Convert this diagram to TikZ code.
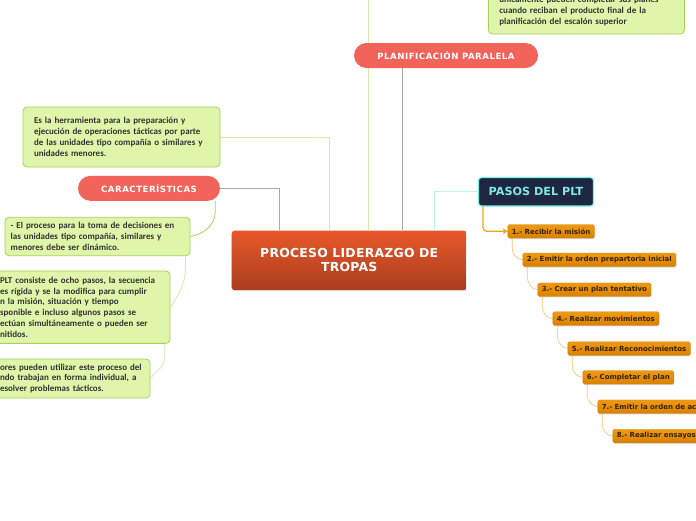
\documentclass[tikz,border=0pt]{standalone}
\usepackage{fontspec}
\newfontfamily\hdfont{DejaVu Sans}
\newfontfamily\hdwide{DejaVu Sans}[LetterSpace=6]
\newfontfamily\txfont{Carlito}
\usetikzlibrary{backgrounds,shadows,arrows.meta}
\definecolor{notefill}{HTML}{DFF5A9}
\definecolor{noteline}{HTML}{A9D15A}
\definecolor{pillred}{HTML}{F2635A}
\definecolor{roottop}{HTML}{E8582A}
\definecolor{rootbot}{HTML}{A83D1E}
\definecolor{navy}{HTML}{1E2642}
\definecolor{aqua}{HTML}{74F2E6}
\definecolor{aquatext}{HTML}{7FE9E0}
\definecolor{steptop}{HTML}{EE9A14}
\definecolor{stepbot}{HTML}{D98000}
\definecolor{steptext}{HTML}{382200}
\definecolor{steplink}{HTML}{F8C77C}
\definecolor{arroworange}{HTML}{F5A31A}
\definecolor{linkgray}{HTML}{A8A8A8}
\definecolor{linkgreen}{HTML}{D5EBAC}
\definecolor{linkaqua}{HTML}{BDF6F1}

\begin{document}
\begin{tikzpicture}[x=1pt,y=-1pt,
  note/.style={draw=noteline,line width=.8pt,fill=notefill,rounded corners=4pt,align=left,text=black!80,
    font=\txfont\bfseries\fontsize{9}{10.8}\selectfont,inner ysep=4pt},
  pill/.style={fill=pillred,rounded corners=12.5pt,text=white,font=\hdwide\bfseries\fontsize{8.6}{10}\selectfont,
    minimum height=25pt,inner sep=0pt},
  stepbox/.style={anchor=west,top color=steptop,bottom color=stepbot,draw=stepbot,line width=.3pt,rounded corners=1.5pt,
    minimum height=13.5pt,inner xsep=4pt,inner ysep=0pt,text=steptext,font=\hdfont\bfseries\fontsize{7}{8}\selectfont,
    drop shadow={opacity=.3,shadow xshift=.6pt,shadow yshift=-1pt}},
  steplink/.style={draw=steplink,line width=.7pt},
  linkgray/.style={draw=linkgray,line width=1pt},
  linkgreen/.style={draw=linkgreen,line width=1pt}]
\clip (0,0) rectangle (696,520);

\node[top color=roottop,bottom color=rootbot,rounded corners=3pt,minimum width=235pt,minimum height=59.5pt,align=center,
  text=white,font=\hdfont\bfseries\addfontfeatures{LetterSpace=2}\fontsize{12.4}{14}\selectfont,drop shadow={opacity=.2,shadow xshift=0pt,shadow yshift=-1pt}]
  (root) at (349.2,260.4) {PROCESO LIDERAZGO DE\\TROPAS};
\coordinate (rootA) at ([xshift=-70pt]root.north);
\coordinate (rootB) at ([xshift=-20.2pt]root.north);
\coordinate (rootC) at ([xshift=18.8pt]root.north);
\coordinate (rootD) at ([xshift=52.8pt]root.north);
\coordinate (rootE) at ([xshift=84.8pt]root.north);
\coordinate (topend) at (368,0);

\node[note,text width=175pt,inner xsep=11pt,minimum height=60pt] (herr) at (121.5,137)
  {Es la herramienta para la preparación y\\ejecución de operaciones tácticas por parte\\de las unidades tipo compañía o similares y\\unidades menores.};
\node[pill,minimum width=142pt] (carac) at (149,188.3) {CARACTERÍSTICAS};
\node[note,text width=173.6pt,inner xsep=5.7pt,minimum height=38.4pt] (din) at (97.5,236.5)
  {- El proceso para la toma de decisiones en\\las unidades tipo compañía, similares y\\menores debe ser dinámico.};
\node[note,text width=164pt,inner xsep=6pt,minimum height=72.3pt] (pasosn) at (82,307.2)
  {PLT consiste de ocho pasos, la secuencia\\es rígida y se la modifica para cumplir\\n la misión, situación y tiempo\\sponible e incluso algunos pasos se\\ectúan simultáneamente o pueden ser\\nitidos.};
\node[note,text width=144pt,inner xsep=6pt,minimum height=39pt] (tact) at (72,378.5)
  {ores pueden utilizar este proceso del\\ndo trabajan en forma individual, a\\esolver problemas tácticos.};

\node[pill,minimum width=184pt] (plan) at (446,55.5) {PLANIFICACIÓN PARALELA};
\node[note,anchor=south west,text width=174pt,inner xsep=11pt,inner ysep=8pt] (final) at (488,34.3)
  {únicamente pueden completar sus planes\\cuando reciban el producto final de la\\planificación del escalón superior};

\node[fill=navy,draw=aqua,line width=1.2pt,rounded corners=3pt,minimum width=115pt,minimum height=28.5pt,
  text=aquatext,font=\hdfont\bfseries\fontsize{11.2}{13}\selectfont] (pasos) at (536,191.8) {PASOS DEL PLT};

\node[stepbox,minimum width=85.3pt] (s1) at (507.7,231.3) {1.- Recibir la misión};
\node[stepbox,minimum width=150.3pt] (s2) at (522.7,259.8) {2.- Emitir la orden prepartoria inicial};
\node[stepbox,minimum width=111.3pt] (s3) at (537.7,289.7) {3.- Crear un plan tentativo};
\node[stepbox,minimum width=105.3pt] (s4) at (552.7,318.5) {4.- Realizar movimientos};
\node[stepbox,minimum width=122.3pt] (s5) at (567.7,348.5) {5.- Realizar Reconocimientos};
\node[stepbox,minimum width=90pt] (s6) at (582.7,377.3) {6.- Completar el plan};
\node[stepbox,text width=110pt] (s7) at (597.7,406.7) {7.- Emitir la orden de ac};
\node[stepbox,text width=100pt] (s8) at (612.7,436) {8.- Realizar ensayos};

\begin{scope}[on background layer]
\fill[white] (0,0) rectangle (696,520);
\draw[linkgray] (carac.east) -| (rootA);
\draw[linkgreen] (herr.east) -| (rootB);
\draw[linkgreen] (rootC) -- (topend);
\draw[linkgray] (plan.south -| rootD) -- (rootD);
\draw[draw=linkaqua,line width=1pt] (pasos.west) -| (rootE);
\draw[draw=noteline,line width=.8pt] ([xshift=-5pt]carac.south east) -- ++(0,11) .. controls +(0,14) and +(12,-2) .. (din.east);
\draw[linkgreen,line width=.8pt] ([xshift=-5pt]din.south east) -- ++(0,12) .. controls +(0,16) and +(8,-12) .. (pasosn.east);
\draw[linkgreen,line width=.8pt] ([xshift=-5.7pt]pasosn.south east) -- ++(0,13.4) .. controls +(0,10) and +(6,-8) .. (tact.east);
\draw[draw=arroworange,line width=1.2pt,rounded corners=4pt,-{Stealth[length=5pt,width=6pt]}] ([xshift=5pt]pasos.south west) |- (s1.west);
\foreach \a/\b in {s1/s2,s2/s3,s3/s4,s4/s5,s5/s6,s6/s7,s7/s8}
  \draw[steplink] ([xshift=4.5pt]\a.south west) -- ++(0,10) .. controls +(0,6) and +(-6,0) .. (\b.west);
\end{scope}
\end{tikzpicture}
\end{document}
